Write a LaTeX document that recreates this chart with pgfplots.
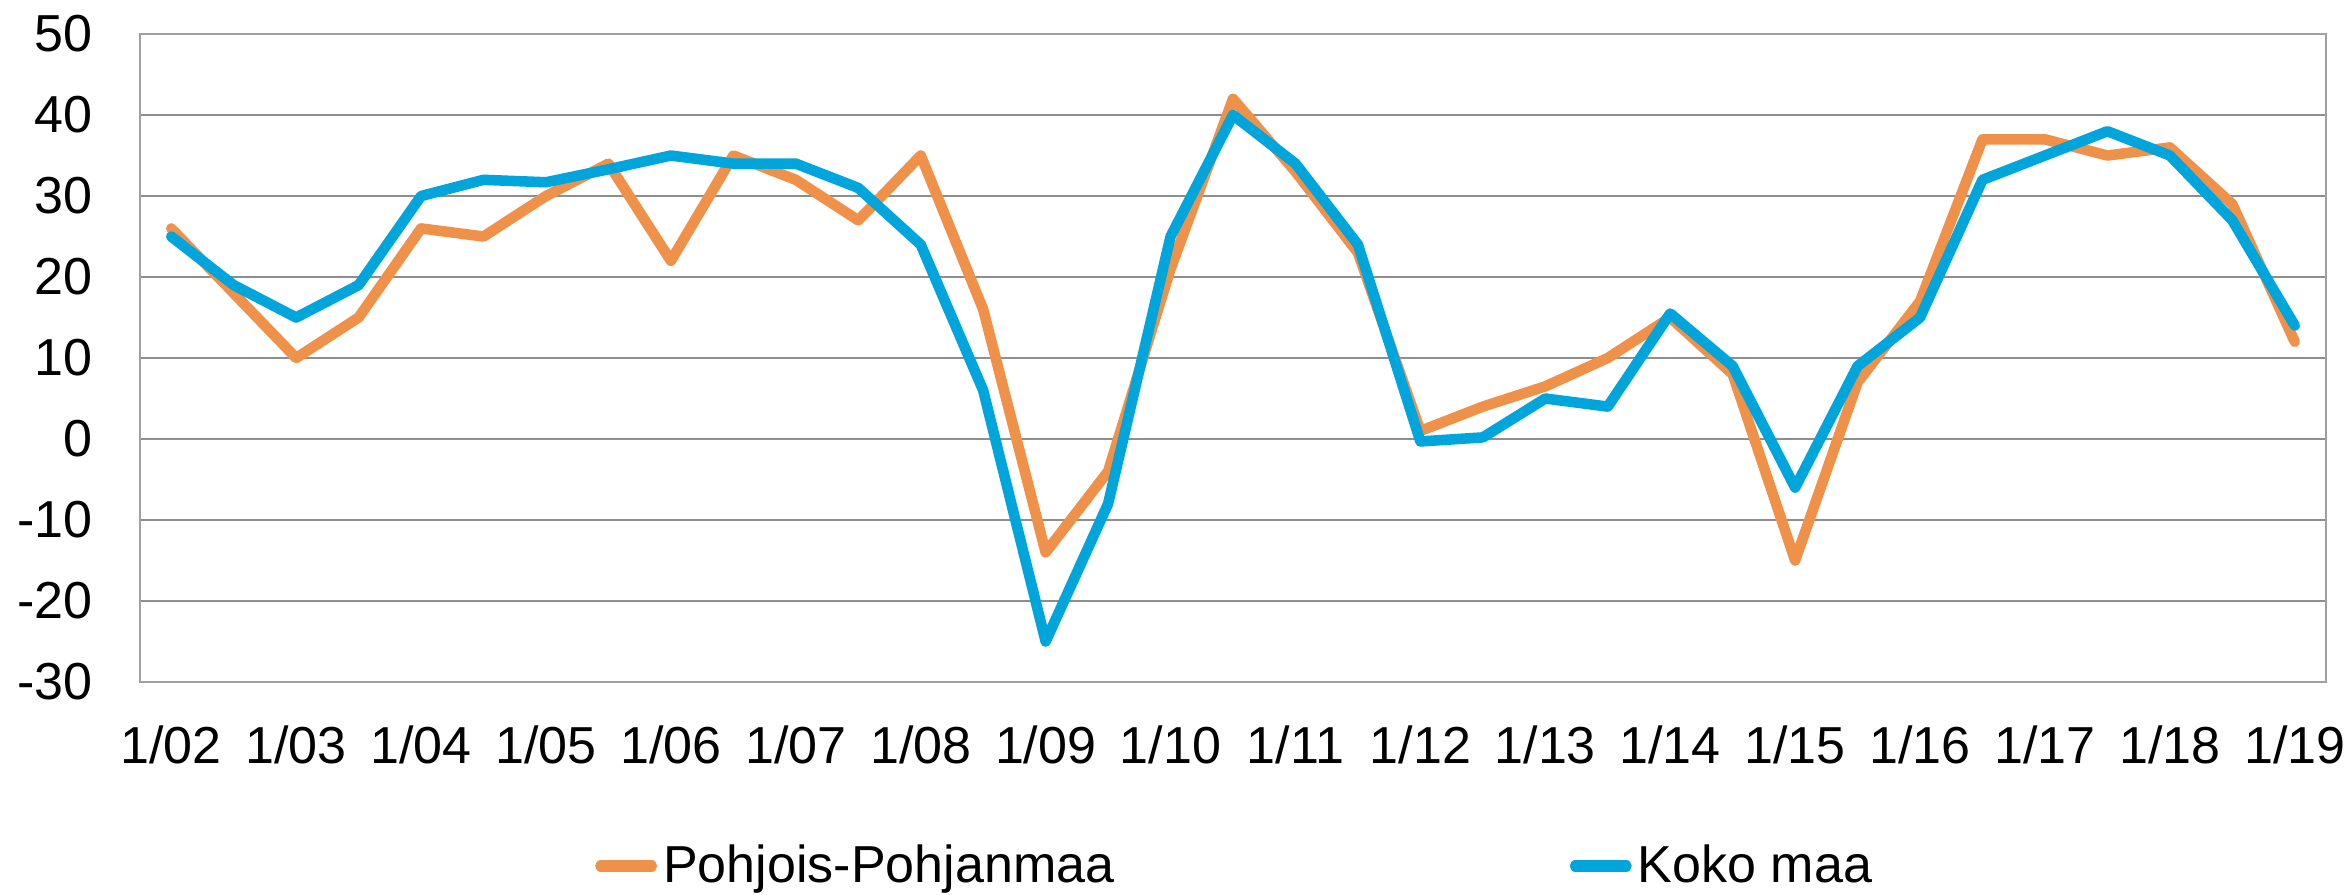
\documentclass[border=0pt]{standalone}
\usepackage{fontspec}
\setmainfont{Liberation Sans}
\usepackage{pgfplots}
\pgfplotsset{compat=1.18}
\definecolor{orng}{HTML}{F0914A}
\definecolor{blu}{HTML}{00A5DB}
\definecolor{gridg}{HTML}{8E8E8E}
\definecolor{axg}{HTML}{A0A0A0}
\begin{document}
\begin{tikzpicture}
\useasboundingbox (-1.40,-2.13) rectangle (22.09,6.82);
\begin{axis}[
  at={(0,0)}, anchor=south west,
  scale only axis,
  width=21.86cm, height=6.48cm,
  xmin=-0.5, xmax=34.5,
  ymin=-30, ymax=50,
  ytick={-30,-20,...,50},
  xtick={0,2,...,34},
  xticklabels={1/02,1/03,1/04,1/05,1/06,1/07,1/08,1/09,1/10,1/11,1/12,1/13,1/14,1/15,1/16,1/17,1/18,1/19},
  major tick length=0pt,
  /pgf/number format/assume math mode=true,
  tick label style={font=\fontsize{14.8}{17}\selectfont, inner sep=0pt},
  yticklabel style={anchor=east, xshift=-0.47cm},
  xticklabel style={anchor=north, yshift=-0.43cm},
  ymajorgrids,
  grid style={gridg, line width=0.65pt},
  axis line style={axg, line width=0.75pt},
  legend columns=2,
  legend style={at={(0.2054,-0.284)}, anchor=west, draw=none, fill=none,
    inner sep=0pt, column sep=0pt,
    font=\fontsize{14.8}{17}\selectfont,
    nodes={inner sep=0pt},
    /tikz/every even column/.append style={column sep=4.50cm}},
  legend image code/.code={\draw[#1, line width=3.2pt, line cap=round] plot coordinates {(0.058cm,0cm) (0.565cm,0cm)};\path (0cm,0cm) (0.63cm,0cm);},
  every axis plot/.append style={line width=3pt, line join=round, line cap=round},
]
\addplot[orng] coordinates {
(0,26) (1,18) (2,10) (3,15) (4,26) (5,25) (6,30) (7,34) (8,22) (9,35)
(10,32) (11,27) (12,35) (13,16) (14,-14) (15,-4) (16,21) (17,42) (18,33) (19,23)
(20,1) (21,4) (22,6.5) (23,10) (24,15) (25,8) (26,-15) (27,7) (28,17) (29,37)
(30,37) (31,35) (32,36) (33,29) (34,12)};
\addlegendentry{Pohjois-Pohjanmaa}
\addplot[blu] coordinates {
(0,25) (1,19) (2,15) (3,19) (4,30) (5,32) (6,31.7) (7,33.3) (8,35) (9,34)
(10,34) (11,31) (12,24) (13,6) (14,-25) (15,-8) (16,25) (17,40) (18,34) (19,24)
(20,-0.3) (21,0.2) (22,5) (23,4) (24,15.5) (25,9) (26,-6) (27,9) (28,15) (29,32)
(30,35) (31,38) (32,35) (33,27) (34,14)};
\addlegendentry{Koko maa}
\end{axis}
\end{tikzpicture}
\end{document}
